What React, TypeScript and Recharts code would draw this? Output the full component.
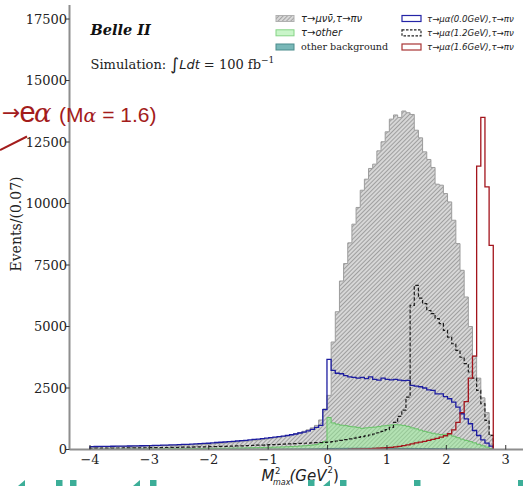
import React from "react";
import { ComposedChart, Area, Line, XAxis, YAxis } from "recharts";

// histogram binning: 97 bins of 0.07 GeV^2 starting at -4
const BIN_START = -4.0;
const BIN_WIDTH = 0.07;

const xTicks = [-4, -3, -2, -1, 0, 1, 2, 3];
const yTicks = [0, 2500, 5000, 7500, 10000, 12500, 15000, 17500];

// tau -> mu nu nubar, tau -> pi nu (hatched)
const tauMuNuNu = [
  110, 115, 118, 120, 122, 125, 128, 130, 133, 135,
  138, 140, 143, 146, 150, 153, 157, 160, 164, 168,
  172, 176, 180, 185, 190, 195, 200, 206, 212, 230,
  245, 255, 265, 275, 290, 305, 320, 335, 350, 370,
  390, 410, 430, 455, 480, 505, 535, 565, 600, 640,
  690, 740, 800, 880, 980, 1200, 1650,
  2200, 4370, 5600, 6850,
  7560, 8400, 9160, 9840, 10540, 10990, 11425, 11600, 12140, 12510, 12915,
  13430, 13600, 13500, 13760, 13690, 13620,
  12980, 12670, 12100, 11790, 11465, 10785, 10745, 10405, 10065, 9320, 8370, 7285,
  6200, 5000, 3800, 2900, 2100, 1500, 600,
];

// tau -> other
const tauOther = [
  10, 10, 12, 12, 14, 14, 15, 16, 17, 18,
  19, 20, 21, 22, 23, 24, 25, 26, 28, 30,
  31, 32, 33, 35, 36, 38, 40, 42, 44, 46,
  48, 50, 52, 55, 58, 60, 63, 66, 70, 74,
  78, 82, 86, 90, 95, 100, 106, 112, 120, 130,
  140, 150, 165, 180, 200, 250, 330,
  1300, 1080, 1030, 990, 970, 940, 920, 900, 860, 880,
  900, 910, 930, 960, 980, 1000, 1010, 1000, 980, 940,
  880, 840, 790, 740, 700, 660, 630, 610, 620, 600,
  540, 480, 420, 370, 320, 270, 210, 150, 100, 40,
];

// other background
const otherBkg = [
  0, 0, 0, 0, 0, 0, 0, 0, 0, 0,
  0, 0, 0, 0, 0, 0, 0, 0, 0, 0,
  0, 0, 0, 0, 0, 0, 0, 0, 0, 0,
  5, 5, 5, 5, 6, 6, 6, 7, 7, 8,
  8, 9, 9, 10, 10, 11, 12, 13, 14, 15,
  16, 18, 20, 22, 25, 28, 32,
  40, 42, 44, 45, 46, 47, 48, 49, 50, 50,
  50, 50, 50, 50, 49, 48, 47, 46, 45, 44,
  43, 42, 40, 38, 36, 34, 32, 30, 28, 26,
  24, 22, 20, 18, 15, 12, 10, 8, 5, 3,
];

// tau -> mu alpha (0.0 GeV), tau -> pi nu
const alpha00 = [
  120, 122, 125, 128, 130, 133, 135, 138, 140, 143,
  146, 150, 153, 157, 160, 165, 170, 175, 180, 186,
  192, 198, 205, 212, 220, 228, 236, 245, 255, 270,
  285, 295, 305, 318, 330, 345, 360, 375, 390, 410,
  425, 440, 460, 480, 500, 520, 545, 570, 600, 630,
  670, 705, 760, 820, 900, 980, 1620,
  3663, 3215, 3100, 3080, 3000, 2950, 2930, 2900, 2930, 2880,
  2950, 2850, 2820, 2900, 2850, 2830, 2850, 2820, 2800, 2810,
  2605, 2580, 2550, 2500, 2420, 2400, 2265, 2265, 2150, 2063,
  1925, 1720, 1453, 1249, 1046, 773, 570, 395, 257, 135,
];

// tau -> mu alpha (1.2 GeV), tau -> pi nu
const alpha12 = [
  50, 52, 54, 55, 57, 58, 60, 62, 63, 65,
  67, 68, 70, 72, 74, 76, 78, 80, 82, 85,
  88, 90, 93, 96, 100, 103, 107, 110, 114, 118,
  122, 126, 130, 135, 140, 145, 150, 156, 162, 168,
  175, 180, 188, 195, 200, 210, 218, 225, 232, 240,
  248, 255, 262, 270, 278, 285, 290,
  300, 320, 345, 370, 400, 430, 460, 490, 520, 555,
  590, 630, 680, 740, 810, 900, 1100, 1350, 1600, 2130,
  5860, 6675, 6150, 5930, 5650, 5520, 5320, 5120, 4840, 4570,
  4300, 4030, 3750, 3490, 3150, 2900, 2400, 1860, 1180, 570,
];

// tau -> mu alpha (1.6 GeV), tau -> pi nu
const alpha16 = [
  0, 0, 0, 0, 0, 0, 0, 0, 0, 0,
  0, 0, 0, 0, 0, 0, 0, 0, 0, 0,
  0, 0, 0, 0, 0, 0, 0, 0, 0, 0,
  0, 0, 0, 0, 0, 0, 0, 0, 0, 0,
  0, 0, 0, 0, 0, 0, 0, 0, 0, 0,
  0, 0, 0, 0, 0, 0, 0, 0, 0, 0,
  0, 0, 8, 10, 15, 20, 25, 30, 40, 50,
  60, 75, 90, 110, 130, 160, 190, 230, 270, 300,
  330, 370, 410, 450, 500, 560, 640, 800, 1100, 1500,
  1950, 2900, 3800, 11520, 13500, 10680, 8300,
];

// one point per bin edge, plus zero points at both ends so the step outlines close
function buildRows() {
  const n = tauMuNuNu.length;
  const rows: any[] = [{ x: BIN_START, muNuNu: 0, other: 0, bkg: 0, a00: 0, a12: 0, a16: null }];
  for (let k = 0; k < n; k++) {
    rows.push({
      x: +(BIN_START + k * BIN_WIDTH).toFixed(2),
      muNuNu: tauMuNuNu[k],
      other: tauOther[k],
      bkg: otherBkg[k],
      a00: alpha00[k],
      a12: alpha12[k],
      a16: alpha16[k] > 0 ? alpha16[k] : null,
    });
  }
  rows.push({ x: +(BIN_START + n * BIN_WIDTH).toFixed(2), muNuNu: 0, other: 0, bkg: 0, a00: 0, a12: 0, a16: 0 });
  return rows;
}

const rows = buildRows();

const SERIF = "DejaVu Serif";
const SANS = "DejaVu Sans";

function fmtX(v: number) {
  return v < 0 ? "\u2212" + Math.abs(v) : String(v);
}

function XTick(props: any) {
  const { x, y, payload } = props;
  return (
    <g>
      <line x1={x} x2={x} y1={y} y2={y - 4.5} stroke="#333" strokeWidth={1} />
      <text x={x} y={y + 14} textAnchor="middle" fontFamily={SERIF} fontSize={13} fill="#222">
        {fmtX(payload.value)}
      </text>
    </g>
  );
}

function YTick(props: any) {
  const { x, y, payload } = props;
  return (
    <g>
      <line x1={x - 3.5} x2={x} y1={y} y2={y} stroke="#333" strokeWidth={1} />
      <text x={x - 2.5} y={y + 4.7} textAnchor="end" fontFamily={SERIF} fontSize={13} fill="#222">
        {payload.value}
      </text>
    </g>
  );
}

const legendLeft = [
  { label: "τ→μνν\u0304,τ→πν", kind: "hatch" },
  { label: "τ→other", kind: "green" },
  { label: "other background", kind: "teal" },
];
const legendRight = [
  { label: "τ→μα(0.0GeV),τ→πν", color: "#2424a6", dash: undefined },
  { label: "τ→μα(1.2GeV),τ→πν", color: "#222", dash: "2.5 1.5" },
  { label: "τ→μα(1.6GeV),τ→πν", color: "#a83434", dash: undefined },
];
const legendRows = [15.5, 29.8, 44];

function Overlay() {
  return (
    <svg width={523} height={486} style={{ position: "absolute", left: 0, top: 0, pointerEvents: "none" }}>
      <defs>
        <pattern id="legendHatch" patternUnits="userSpaceOnUse" width={3} height={3} patternTransform="rotate(45)">
          <rect width={3} height={3} fill="#d8d8d8" />
          <line x1={1.5} y1={0} x2={1.5} y2={3} stroke="#a4a4a4" strokeWidth={1} />
        </pattern>
      </defs>

      <text x={90.5} y={35} fontFamily={SERIF} fontWeight="bold" fontStyle="italic" fontSize={14.5} fill="#111">
        Belle II
      </text>
      <text x={90.5} y={68.5} fontFamily={SERIF} fontSize={13} fill="#222">
        Simulation:{" "}
        <tspan fontFamily={SANS} fontSize={17} dy={1.5}>∫</tspan>
        <tspan fontFamily={SANS} fontStyle="italic" dy={-1.5}>Ldt</tspan>
        <tspan> = 100 fb</tspan>
        <tspan fontSize={9} dy={-6}>−1</tspan>
      </text>

      {legendLeft.map((e, i) => {
        const top = legendRows[i];
        const fill = e.kind === "hatch" ? "url(#legendHatch)" : e.kind === "green" ? "#c9f5c9" : "#79b8b8";
        const stroke = e.kind === "hatch" ? "#b0b0b0" : e.kind === "green" ? "#86d486" : "#4b8c8c";
        return (
          <g key={e.label}>
            <rect x={276} y={top} width={18} height={6} fill={fill} stroke={stroke} strokeWidth={1} />
            <text
              x={301}
              y={top + 6.3}
              fontFamily={e.kind === "teal" ? SERIF : SANS}
              fontStyle={e.kind === "teal" ? "normal" : "italic"}
              fontSize={e.kind === "teal" ? 9.6 : 10}
              fill="#222"
            >
              {e.label}
            </text>
          </g>
        );
      })}
      {legendRight.map((e, i) => {
        const top = legendRows[i];
        return (
          <g key={e.label}>
            <rect x={402} y={top} width={19} height={6} fill="none" stroke={e.color} strokeWidth={1.2} strokeDasharray={e.dash} />
            <text x={427} y={top + 6.3} fontFamily={SANS} fontStyle="italic" fontSize={8.6} fill="#222">
              {e.label}
            </text>
          </g>
        );
      })}

      <text transform="translate(20.5,224) rotate(-90)" textAnchor="middle" fontFamily={SERIF} fontSize={14} fill="#222">
        Events/(0.07)
      </text>

      <g fontFamily={SANS} fontStyle="italic" fill="#222">
        <text x={261.5} y={481} fontSize={15}>M</text>
        <text x={275} y={473.5} fontSize={8.5} fontStyle="normal">2</text>
        <text x={273} y={484.5} fontSize={8}>max</text>
        <text x={289.5} y={481} fontSize={15}>(GeV</text>
        <text x={327.5} y={473} fontSize={8.5} fontStyle="normal">2</text>
        <text x={333} y={481} fontSize={15} fontStyle="normal">)</text>
      </g>

      <g fill="#a31c1c">
        <text x={20.5} y={120} textAnchor="end" fontFamily={SANS} fontSize={22}>→</text>
        <text x={19.5} y={121.5} fontFamily="Liberation Sans" fontSize={29}>e</text>
        <text x={34} y={121.5} fontFamily={SERIF} fontStyle="italic" fontSize={26}>α</text>
        <text x={59} y={121.5} fontFamily="Liberation Sans" fontSize={21}>
          (M<tspan fontFamily={SERIF} fontStyle="italic" fontSize={19}>α</tspan> = 1.6)
        </text>
      </g>
      <line x1={0} y1={150} x2={27} y2={136.5} stroke="#a31c1c" strokeWidth={2} />

      <g fill="#3cae98">
        <polygon points="18,486 25,480 25,486" />
        <rect x={56} y={480} width={6.5} height={6} />
        <rect x={70} y={480} width={6.5} height={6} />
        <polygon points="133,486 140,480 140,486" />
        <rect x={150} y={480} width={6.5} height={6} />
        <rect x={308} y={480} width={6.5} height={6} />
        <polygon points="323,486 330,480 330,486" />
        <rect x={340} y={480} width={6.5} height={6} />
        <rect x={414} y={480} width={6.5} height={6} />
        <rect x={518} y={480} width={6.5} height={6} />
      </g>
    </svg>
  );
}

export default function App() {
  return (
    <div style={{ position: "absolute", left: 0, top: 0, width: 523, height: 486, overflow: "hidden", background: "#fff" }}>
      <ComposedChart width={530} height={486} data={rows} margin={{ top: 5, right: 0.5, bottom: 0, left: 0 }}>
        <defs>
          <pattern id="bgHatch" patternUnits="userSpaceOnUse" width={3} height={3} patternTransform="rotate(45)">
            <rect width={3} height={3} fill="#d7d7d7" />
            <line x1={1.5} y1={0} x2={1.5} y2={3} stroke="#9f9f9f" strokeWidth={1} />
          </pattern>
        </defs>
        <XAxis
          dataKey="x"
          type="number"
          domain={[-4.345, 3.4]}
          ticks={xTicks}
          allowDataOverflow
          height={36.5}
          tickSize={0}
          tickMargin={0}
          tickLine={false}
          tick={<XTick />}
          axisLine={{ stroke: "#8e8e8e", strokeWidth: 2 }}
        />
        <XAxis
          xAxisId="top"
          orientation="top"
          dataKey="x"
          type="number"
          domain={[-4.345, 3.4]}
          height={0}
          tick={false}
          tickLine={false}
          axisLine={{ stroke: "#555", strokeWidth: 1.3 }}
        />
        <YAxis
          type="number"
          domain={[0, 18070]}
          ticks={yTicks}
          width={69.5}
          tickSize={0}
          tickMargin={0}
          tickLine={false}
          tick={<YTick />}
          axisLine={{ stroke: "#8e8e8e", strokeWidth: 2 }}
        />
        <Area
          type="stepAfter"
          dataKey="muNuNu"
          fill="url(#bgHatch)"
          fillOpacity={1}
          stroke="#9c9c9c"
          strokeWidth={1}
          dot={false}
          activeDot={false}
          isAnimationActive={false}
        />
        <Area
          type="stepAfter"
          dataKey="other"
          fill="#90ee90"
          fillOpacity={0.5}
          stroke="#66c266"
          strokeWidth={1}
          dot={false}
          activeDot={false}
          isAnimationActive={false}
        />
        <Area
          type="stepAfter"
          dataKey="bkg"
          fill="#5f9ea0"
          fillOpacity={0.9}
          stroke="#2f6f6f"
          strokeWidth={1}
          dot={false}
          activeDot={false}
          isAnimationActive={false}
        />
        <Line
          type="stepAfter"
          dataKey="a00"
          stroke="#1c1ca0"
          strokeWidth={1.3}
          dot={false}
          activeDot={false}
          isAnimationActive={false}
        />
        <Line
          type="stepAfter"
          dataKey="a12"
          stroke="#1a1a1a"
          strokeWidth={1.2}
          strokeDasharray="3.5 2"
          dot={false}
          activeDot={false}
          isAnimationActive={false}
        />
        <Line
          type="stepAfter"
          dataKey="a16"
          stroke="#a3141c"
          strokeWidth={1.3}
          dot={false}
          activeDot={false}
          isAnimationActive={false}
        />
      </ComposedChart>
      <Overlay />
    </div>
  );
}
